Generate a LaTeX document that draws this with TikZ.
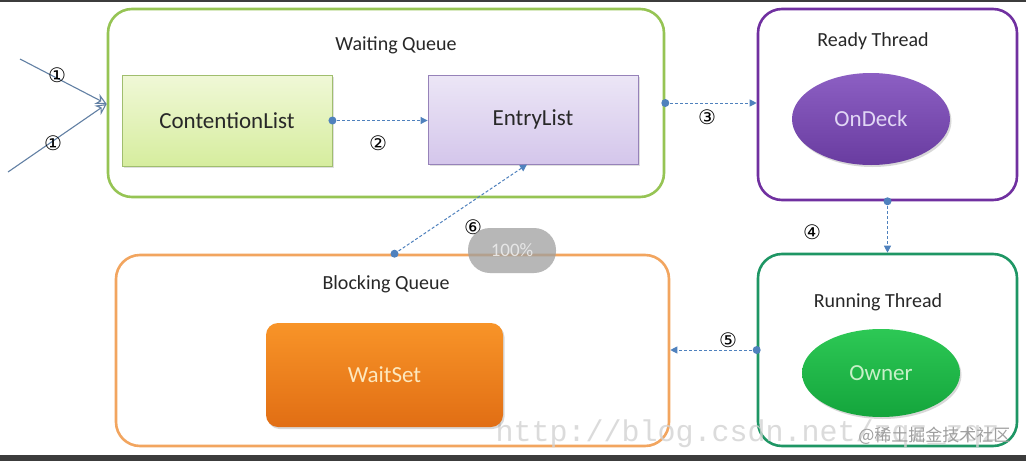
\documentclass[tikz,border=0pt]{standalone}
\usepackage{fontspec}
\setmainfont{Carlito}
\newfontfamily\djv{DejaVu Sans}
\newfontfamily\cjk{Noto Sans CJK SC}
\newfontfamily\wmono{Liberation Mono}
\usetikzlibrary{shapes.geometric,arrows.meta,shadows}
\definecolor{wqgreen}{RGB}{150,196,84}
\definecolor{rtpurple}{RGB}{112,48,160}
\definecolor{rungreen}{RGB}{30,150,100}
\definecolor{bqorange}{RGB}{242,165,95}
\definecolor{arrowblue}{RGB}{79,129,189}
\definecolor{txtgray}{RGB}{40,40,40}
\definecolor{darkbar}{RGB}{60,60,60}
\definecolor{cltop}{RGB}{240,248,215}
\definecolor{clbot}{RGB}{214,237,158}
\definecolor{cldraw}{RGB}{160,190,110}
\definecolor{eltop}{RGB}{236,230,246}
\definecolor{elbot}{RGB}{212,198,235}
\definecolor{eldraw}{RGB}{150,130,185}
\tikzset{
  x=1pt,y=-1pt,
  groupbox/.style={draw, line width=2.6pt, rounded corners=24pt, fill=white},
  grouplabel/.style={font=\fontsize{20}{22}\selectfont, text=txtgray},
  listbox/.style={draw, line width=0.9pt, font=\fontsize{23}{26}\selectfont, text=txtgray,
    drop shadow={shadow xshift=1.5pt, shadow yshift=-1.5pt, opacity=0.25}},
  blob/.style={ellipse, draw=none, font=\fontsize{23}{26}\selectfont,
    drop shadow={shadow xshift=1.5pt, shadow yshift=-2pt, opacity=0.3}},
  flow/.style={arrowblue, line width=1pt, densely dashed, -{Triangle[length=7pt,width=7pt]}},
  startdot/.style={circle, fill=arrowblue, inner sep=0pt, minimum size=8pt},
  num/.style={font=\djv\fontsize{20}{21}\selectfont, text=black},
  entry/.style={color=arrowblue!60!gray, line width=1.1pt, -{Stealth[length=11pt,width=11pt,open]}}
}
\begin{document}
\begin{tikzpicture}
\useasboundingbox (0,0) rectangle (1026,461);
\fill[white] (0,0) rectangle (1026,461);
\fill[darkbar] (0,0) rectangle (1026,2);
\fill[darkbar] (0,455) rectangle (1026,461);

% group boxes
\node[groupbox, draw=wqgreen, minimum width=556pt, minimum height=188pt] (wq) at (386,103) {};
\node[grouplabel] (wql) at (396,45) {Waiting Queue};
\node[groupbox, draw=rtpurple, minimum width=259pt, minimum height=191pt] (rt) at (887.5,104.5) {};
\node[grouplabel] (rtl) at (873,41) {Ready Thread};
\node[groupbox, draw=rungreen, minimum width=259pt, minimum height=192pt] (run) at (887.5,350) {};
\node[grouplabel] (runl) at (878,302) {Running Thread};
\node[groupbox, draw=bqorange, minimum width=553pt, minimum height=191pt] (bq) at (392.5,350.5) {};
\node[grouplabel] (bql) at (386,284) {Blocking Queue};

% inner nodes
\node[listbox, draw=cldraw, top color=cltop, bottom color=clbot,
  minimum width=210pt, minimum height=91pt] (cl) at (227,120.5) {ContentionList};
\node[listbox, draw=eldraw, top color=eltop, bottom color=elbot,
  minimum width=210pt, minimum height=89pt] (el) at (533,119.5) {EntryList};
\node[blob, top color={rgb,255:red,140;green,95;blue,195}, bottom color={rgb,255:red,105;green,60;blue,160},
  text={rgb,255:red,225;green,215;blue,245}, minimum width=158pt, minimum height=92pt] (od) at (871,119) {OnDeck};
\node[blob, top color={rgb,255:red,45;green,200;blue,85}, bottom color={rgb,255:red,20;green,165;blue,60},
  text={rgb,255:red,200;green,240;blue,200}, minimum width=158pt, minimum height=88pt] (ow) at (881,373) {Owner};
\node[anchor=base west, text=gray!35, text opacity=0.8, font=\wmono\fontsize{30}{30}\selectfont] (wm1) at (492,441) {http://blog.csdn.net/zqz\_zqz};
\node[rounded corners=12pt, draw=none, font=\fontsize{23}{26}\selectfont,
  top color={rgb,255:red,248;green,148;blue,40}, bottom color={rgb,255:red,225;green,110;blue,20},
  text={rgb,255:red,253;green,232;blue,190}, minimum width=237pt, minimum height=104pt,
  drop shadow={shadow xshift=1.5pt, shadow yshift=-2pt, opacity=0.3}] (ws) at (384.5,375) {WaitSet};

% incoming arrows 1
\coordinate (in1) at (20,59);
\coordinate (in2) at (8,172);
\draw[entry] (in1) -- ([yshift=-1pt]wq.west);
\draw[entry] (in2) -- ([yshift=-1pt]wq.west);
\node[num] (n1a) at (57,75) {①};
\node[num] (n1b) at (53,143) {①};

% flow 2
\draw[flow] (cl.east) -- (cl.east -| el.west);
\node[startdot] (d2) at (cl.east) {};
\node[num] (n2) at (378,143) {②};

% flow 3
\draw[flow] (wq.east) -- (wq.east -| rt.west);
\node[startdot] (d3) at (wq.east) {};
\node[num] (n3) at (707,117) {③};

% flow 4
\draw[flow] (rt.south) -- (run.north);
\node[startdot] (d4) at (rt.south) {};
\node[num] (n4) at (812,232) {④};

% flow 5
\draw[flow] (run.west) -- (run.west -| bq.east);
\node[startdot] (d5) at (run.west) {};
\node[num] (n5) at (728,340) {⑤};

% flow 6
\draw[flow] ([xshift=2pt]bq.north) -- ([xshift=-6pt]el.south);
\node[startdot] (d6) at ([xshift=2pt]bq.north) {};
\node[num] (n6) at (473,227) {⑥};

% overlays
\node[fill=gray!75, fill opacity=0.75, text opacity=0.9, rounded corners=22pt, minimum width=88pt, minimum height=45pt,
  text=white!85!gray, font=\fontsize{19}{20}\selectfont] (pct) at (512,250.5) {100\%};
\node[anchor=east, text=gray!75, font=\cjk\fontsize{17}{18}\selectfont] (wm2) at (1014,436) {@稀土掘金技术社区};
\end{tikzpicture}
\end{document}
